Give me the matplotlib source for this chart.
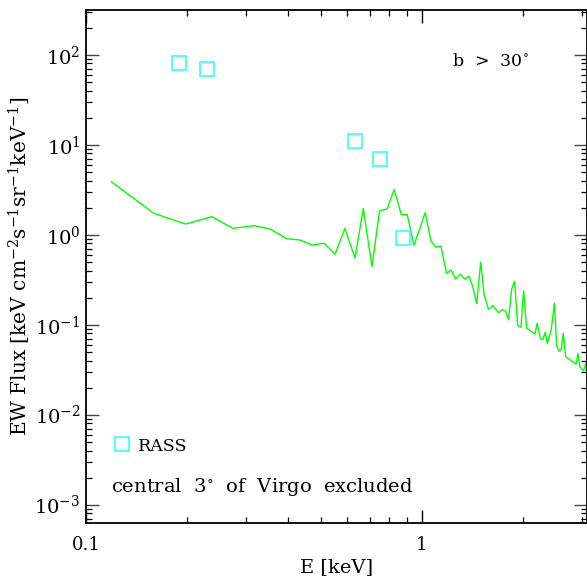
import matplotlib
matplotlib.use("Agg")
import matplotlib.pyplot as plt
from matplotlib.ticker import FixedLocator, NullFormatter, LogLocator

plt.rcParams['font.family'] = ['DejaVu Serif']
plt.rcParams['mathtext.fontset'] = 'dejavuserif'
plt.rcParams['font.size'] = 12.5

# EW spectrum (keV)
energy = [0.119, 0.159, 0.198, 0.237, 0.274, 0.317, 0.353, 0.396, 0.434, 0.472,
          0.512, 0.551, 0.590, 0.632, 0.669, 0.710, 0.748, 0.788, 0.827, 0.868,
          0.904, 0.947, 1.023, 1.063, 1.100, 1.139, 1.184, 1.220, 1.260, 1.302,
          1.343, 1.380, 1.414, 1.455, 1.496, 1.532, 1.578, 1.627, 1.692, 1.736,
          1.778, 1.811, 1.849, 1.888, 1.927, 1.971, 2.008, 2.050, 2.170, 2.203,
          2.253, 2.292, 2.328, 2.360, 2.424, 2.480, 2.518, 2.561, 2.598, 2.634,
          2.678, 2.879, 2.913, 2.953, 3.030, 3.072, 3.098]
flux = [3.88, 1.729, 1.315, 1.585, 1.178, 1.259, 1.157, 0.903, 0.873, 0.768,
        0.804, 0.606, 1.172, 0.551, 1.955, 0.441, 1.848, 1.930, 3.18, 1.677,
        1.668, 0.763, 1.765, 0.858, 0.726, 0.749, 0.371, 0.405, 0.322, 0.364,
        0.320, 0.348, 0.273, 0.171, 0.494, 0.214, 0.148, 0.163, 0.136, 0.147,
        0.141, 0.113, 0.247, 0.304, 0.0985, 0.0936, 0.237, 0.0919, 0.0788, 0.1037,
        0.0699, 0.0681, 0.0825, 0.0621, 0.0856, 0.174, 0.0583, 0.0508, 0.0528, 0.0802,
        0.0441, 0.0366, 0.0481, 0.0339, 0.0306, 0.0373, 0.0322]

# RASS band points
rass_e = [0.189, 0.229, 0.63, 0.75, 0.877]
rass_f = [80, 70, 10.9, 6.9, 0.93]

fig = plt.figure(figsize=(5.87, 5.79), dpi=100)
ax = fig.add_axes([86 / 587, 56 / 579, 501 / 587, 513 / 579])

ax.plot(energy, flux, color='#00ff00', lw=1.0)
ax.plot(rass_e, rass_f, ls='none', marker='s', ms=9.5, mfc='none',
        mec='#33ffff', mew=1.2, label='RASS')

ax.set_xscale('log')
ax.set_yscale('log')
ax.set_xlim(0.1, 3.1)
ax.set_ylim(6.26e-4, 314)

ax.xaxis.set_major_locator(FixedLocator([0.1, 1]))
ax.set_xticklabels(['0.1', '1'])
ax.xaxis.set_minor_locator(FixedLocator([0.2, 0.3, 0.4, 0.5, 0.6, 0.7, 0.8, 0.9, 2, 3]))
ax.xaxis.set_minor_formatter(NullFormatter())
ax.yaxis.set_major_locator(LogLocator(base=10, numticks=20))
ax.yaxis.set_minor_locator(LogLocator(base=10, subs=range(2, 10), numticks=20))
ax.yaxis.set_minor_formatter(NullFormatter())

ax.tick_params(which='both', direction='in', top=True, right=True)
ax.tick_params(which='major', length=9.5, width=1.0)
ax.tick_params(which='minor', length=4.5, width=0.9)
ax.tick_params(axis='x', pad=9, labelsize=13)
ax.tick_params(axis='y', pad=4, colors='#444444', labelcolor='black', labelsize=14)
for sp in ax.spines.values():
    sp.set_linewidth(1.3)

ax.set_xlabel('E [keV]', labelpad=3, fontsize=14)
ax.set_ylabel(r'EW Flux [keV cm$^{-2}$s$^{-1}$sr$^{-1}$keV$^{-1}$]', labelpad=1,
              fontsize=14.5)

ax.text(0.73, 0.899, r'b  >  30$^{\circ}$', transform=ax.transAxes,
        ha='left', va='center')
ax.text(0.05, 0.07, r'central  3$^{\circ}$  of  Virgo  excluded', transform=ax.transAxes,
        ha='left', va='center', fontsize=14)
ax.legend(loc='center left', bbox_to_anchor=(0.055, 0.15), frameon=False,
          handlelength=1.0, handletextpad=0.4, borderpad=0, borderaxespad=0,
          markerscale=1.0)

fig.savefig('out.png', dpi=100)
